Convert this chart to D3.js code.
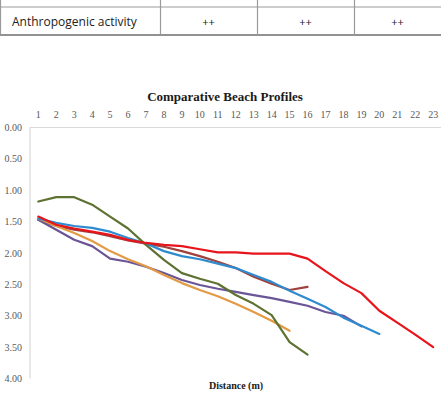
<!DOCTYPE html>
<html>
<head>
<meta charset="utf-8">
<script src="https://cdn.jsdelivr.net/npm/d3@7"></script>
<style>
  html, body { margin: 0; padding: 0; background: #fff; }
  #myDiv { width: 441px; height: 404px; overflow: hidden; }
</style>
</head>
<body>
<div id="myDiv"></div>
<script>
//--------------------------------------------------
// Data
//--------------------------------------------------
var distances = d3.range(1, 24); // 1..23 m
var yTicks = [0, 0.5, 1, 1.5, 2, 2.5, 3, 3.5, 4];
var tableCells = ['++', '++', '++'];

var redProfile    = [1.42, 1.55, 1.61, 1.66, 1.71, 1.79, 1.84, 1.87, 1.89, 1.94, 1.99, 1.99, 2.01, 2.01, 2.01, 2.09, 2.29, 2.48, 2.64, 2.92, 3.11, 3.30, 3.50];
var blueProfile   = [1.45, 1.52, 1.57, 1.60, 1.66, 1.76, 1.85, 1.97, 2.05, 2.10, 2.17, 2.24, 2.35, 2.46, 2.60, 2.73, 2.86, 3.03, 3.16, 3.29];
var brownProfile  = [1.47, 1.57, 1.63, 1.67, 1.73, 1.80, 1.85, 1.90, 1.97, 2.05, 2.14, 2.24, 2.38, 2.49, 2.59, 2.54];
var purpleProfile = [1.47, 1.63, 1.79, 1.89, 2.09, 2.14, 2.22, 2.32, 2.43, 2.51, 2.57, 2.62, 2.67, 2.72, 2.78, 2.84, 2.94, 3.00, 3.17];
var orangeProfile = [1.45, 1.57, 1.68, 1.81, 1.97, 2.10, 2.21, 2.35, 2.48, 2.59, 2.69, 2.81, 2.94, 3.08, 3.24];
var greenProfile  = [1.18, 1.11, 1.11, 1.23, 1.42, 1.61, 1.87, 2.11, 2.32, 2.41, 2.49, 2.67, 2.81, 2.99, 3.42, 3.62];

var series = [
  { name: 'brown',  color: '#A0413C', values: brownProfile },
  { name: 'purple', color: '#6A5696', values: purpleProfile },
  { name: 'orange', color: '#E39A45', values: orangeProfile },
  { name: 'blue',   color: '#2E8BD0', values: blueProfile },
  { name: 'green',  color: '#5E7232', values: greenProfile },
  { name: 'red',    color: '#E8141C', values: redProfile }
];

//--------------------------------------------------
// Drawing
//--------------------------------------------------
var svg = d3.select('#myDiv')
  .append('svg')
    .attr('width', 441)
    .attr('height', 404);

// table fragment at the top
var table = svg.append('g');
var colX = [0, 160, 257, 354, 441];
table.append('line')
  .attr('x1', 0).attr('x2', 441).attr('y1', 7).attr('y2', 7)
  .attr('stroke', '#9a9a9a').attr('stroke-width', 1);
table.append('line')
  .attr('x1', 0).attr('x2', 441).attr('y1', 35).attr('y2', 35)
  .attr('stroke', '#6e6e6e').attr('stroke-width', 1.5);
colX.slice(0, 4).forEach(function (x) {
  table.append('line')
    .attr('x1', x + 0.5).attr('x2', x + 0.5).attr('y1', 0).attr('y2', 35)
    .attr('stroke', '#9a9a9a').attr('stroke-width', 1.2);
});
table.append('text')
  .attr('x', 12).attr('y', 26)
  .attr('font-family', 'Open Sans, Noto Sans, sans-serif')
  .attr('font-size', '12px')
  .attr('fill', '#222')
  .text('Anthropogenic activity');
table.selectAll('.cell')
  .data(tableCells)
  .enter().append('text')
  .attr('x', function (d, i) { return (colX[i + 1] + colX[i + 2]) / 2; })
  .attr('y', 26)
  .attr('text-anchor', 'middle')
  .attr('font-family', 'Open Sans, Noto Sans, sans-serif')
  .attr('font-size', '11px')
  .attr('fill', '#222')
  .text(function (d) { return d; });

// chart
var margin = { top: 127.5, left: 30, right: 0 };
var x = d3.scalePoint()
  .domain(distances)
  .range([38.3, 433.2]);
var y = d3.scaleLinear()
  .domain([0, 4])
  .range([127.5, 378.5]);

svg.append('text')
  .attr('x', 225).attr('y', 101)
  .attr('text-anchor', 'middle')
  .attr('font-family', 'Liberation Serif, Times New Roman, serif')
  .attr('font-weight', 'bold')
  .attr('font-size', '13px')
  .attr('fill', '#1a1a1a')
  .text('Comparative Beach Profiles');

// top (category) axis labels
svg.append('g')
  .selectAll('text')
  .data(distances)
  .enter().append('text')
  .attr('x', function (d) { return x(d); })
  .attr('y', 118)
  .attr('text-anchor', 'middle')
  .attr('font-family', 'Liberation Serif, Times New Roman, serif')
  .attr('font-size', '10px')
  .attr('fill', '#595959')
  .text(function (d) { return d; });

// plot frame: top line and left line
svg.append('line')
  .attr('x1', margin.left).attr('x2', 441)
  .attr('y1', y(0)).attr('y2', y(0))
  .attr('stroke', '#d9d9d9').attr('stroke-width', 1.2);
svg.append('line')
  .attr('x1', margin.left).attr('x2', margin.left)
  .attr('y1', y(0)).attr('y2', y(4))
  .attr('stroke', '#d9d9d9').attr('stroke-width', 1.2);

// y labels
svg.append('g')
  .selectAll('text')
  .data(yTicks)
  .enter().append('text')
  .attr('x', 22)
  .attr('y', function (d) { return y(d) + 3.5; })
  .attr('text-anchor', 'end')
  .attr('font-family', 'Liberation Serif, Times New Roman, serif')
  .attr('font-size', '10px')
  .attr('fill', '#595959')
  .text(function (d) { return d3.format('.2f')(d); });

// profiles
var line = d3.line()
  .x(function (d, i) { return x(distances[i]); })
  .y(function (d) { return y(d); });

svg.append('g')
  .selectAll('path')
  .data(series)
  .enter().append('path')
  .attr('d', function (d) { return line(d.values); })
  .attr('fill', 'none')
  .attr('stroke', function (d) { return d.color; })
  .attr('stroke-width', 2.2)
  .attr('stroke-linejoin', 'round')
  .attr('stroke-linecap', 'round');

svg.append('text')
  .attr('x', 236).attr('y', 389)
  .attr('text-anchor', 'middle')
  .attr('font-family', 'Liberation Serif, Times New Roman, serif')
  .attr('font-weight', 'bold')
  .attr('font-size', '10px')
  .attr('fill', '#1a1a1a')
  .text('Distance (m)');
</script>
</body>
</html>
